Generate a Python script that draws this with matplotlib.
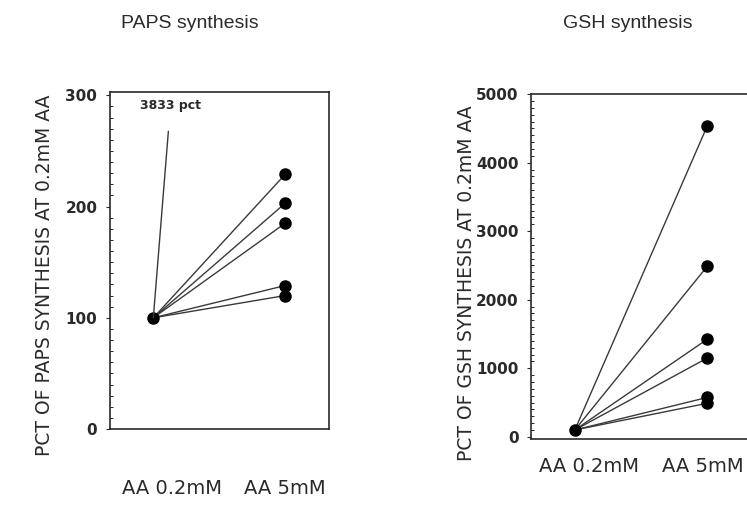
import matplotlib.pyplot as plt

plt.rcParams["font.family"] = ["DejaVu Sans"]

# values
conditions = ["AA 0.2mM", "AA 5mM"]
paps_base = 100
paps_5mm = [229, 203, 185, 129, 120]
paps_outlier = 3833
gsh_base = 100
gsh_5mm = [4540, 2490, 1425, 1150, 575, 490]

line_col = "#3a3a3a"
ink = "#2a2a2a"

fig = plt.figure(figsize=(7.47, 5.2), dpi=100)
ax1 = fig.add_axes([0.147, 0.175, 0.293, 0.648])
ax2 = fig.add_axes([0.711, 0.156, 0.2945, 0.663])


def draw_panel(ax, base, values):
    for v in values:
        ax.plot([0, 1], [base, v], color=line_col, lw=1.0, zorder=2)
    ax.plot([1] * len(values), values, "o", color="black", ms=8, zorder=3)
    ax.plot([0], [base], "o", color="black", ms=8, zorder=3)
    ax.set_xlim(-0.33, 1.33)
    ax.set_xticks([])
    for s in ax.spines.values():
        s.set_color(ink)
        s.set_linewidth(1.2)
    ax.tick_params(axis="y", labelsize=11, colors=ink, length=3, width=0.8, pad=6)
    ax.minorticks_on()
    ax.tick_params(axis="x", which="minor", bottom=False)
    ax.tick_params(axis="y", which="minor", direction="in", length=2, width=0.6)


draw_panel(ax1, paps_base, paps_5mm)
ax1.set_ylim(0, 303)
ax1.set_yticks([0, 100, 200, 300])
ax1.yaxis.set_minor_locator(plt.MultipleLocator(10))
ax1.annotate(f"{paps_outlier} pct", xy=(0, paps_base), xytext=(0.13, 291),
             ha="center", va="center", fontsize=9, fontweight="bold", color=ink,
             arrowprops=dict(arrowstyle="-", color=line_col, lw=1.0,
                             shrinkA=12, shrinkB=0))

draw_panel(ax2, gsh_base, gsh_5mm)
ax2.set_ylim(-30, 5000)
ax2.set_yticks([0, 1000, 2000, 3000, 4000, 5000])
ax2.yaxis.set_minor_locator(plt.MultipleLocator(100))
for lab in ax1.get_yticklabels() + ax2.get_yticklabels():
    lab.set_fontweight("bold")

# titles, axis labels and condition labels
title_font = ["Liberation Sans", "DejaVu Sans"]
fig.text(190 / 747, 1 - 23 / 520, "PAPS synthesis", ha="center", va="center",
         fontsize=14, color=ink, family=title_font)
fig.text(628 / 747, 1 - 23 / 520, "GSH synthesis", ha="center", va="center",
         fontsize=14, color=ink, family=title_font)
fig.text(45 / 747, 1 - 275 / 520, "PCT OF PAPS SYNTHESIS AT 0.2mM AA",
         rotation=90, ha="center", va="center", fontsize=13.5, color=ink)
fig.text(466 / 747, 1 - 283 / 520, "PCT OF GSH SYNTHESIS AT 0.2mM AA",
         rotation=90, ha="center", va="center", fontsize=13.5, color=ink)

fig.text(172 / 747, 1 - 489 / 520, conditions[0], ha="center", va="center",
         fontsize=14, color=ink)
fig.text(285 / 747, 1 - 489 / 520, conditions[1], ha="center", va="center",
         fontsize=14, color=ink)
fig.text(589 / 747, 1 - 467 / 520, conditions[0], ha="center", va="center",
         fontsize=14, color=ink)
fig.text(703 / 747, 1 - 467 / 520, conditions[1], ha="center", va="center",
         fontsize=14, color=ink)

fig.savefig("out.png", dpi=100)
